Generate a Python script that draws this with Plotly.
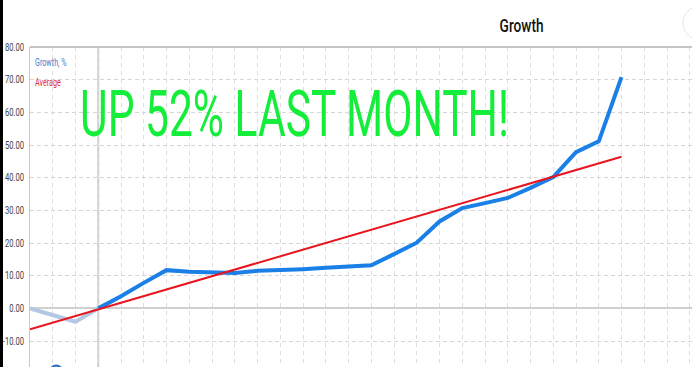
import plotly.graph_objects as go

# ---- data ----
idx = list(range(27))
growth = [0, -2.0, -4.1, 0, 3.7, 7.8, 11.7, 11.2, 11.1, 10.8, 11.5, 11.6, 12.0,
          12.4, 12.8, 13.2, 16.6, 20.1, 26.6, 30.7, 32.2, 33.8, 36.9, 40.2,
          47.8, 51.1, 70.8]
avg_x = [0, 26]
avg_y = [-6.4, 46.4]
y_ticks = [-10, 0, 10, 20, 30, 40, 50, 60, 70, 80]
split = 3

W, H = 692, 367
L, T = 30, 47
PW = W - L
PH = H - T
XMAX = PW / 22.75
YMIN = 80 - PH / 3.267
FONT = "Roboto, Liberation Sans, DejaVu Sans"


def px_x(p):
    return (p - L) / PW


def px_y(p):
    return (H - p) / PH


fig = go.Figure()
fig.add_trace(go.Scatter(x=idx[:split + 1], y=growth[:split + 1], mode="lines",
                         line=dict(color="#b3c8e3", width=4), showlegend=False,
                         hoverinfo="skip"))
fig.add_trace(go.Scatter(x=idx[split:], y=growth[split:], mode="lines",
                         line=dict(color="#1a7fe6", width=4), showlegend=False))
fig.add_trace(go.Scatter(x=avg_x, y=avg_y, mode="lines",
                         line=dict(color="#e8141e", width=2), showlegend=False))
fig.add_trace(go.Scatter(x=[1.15], y=[-19.3], mode="markers",
                         marker=dict(size=12, color="#b3c8e3",
                                     line=dict(color="#2f6fb8", width=2)),
                         showlegend=False, hoverinfo="skip"))

fig.update_layout(
    width=W, height=H,
    margin=dict(l=L, r=0, t=T, b=0, pad=0, autoexpand=False),
    paper_bgcolor="white", plot_bgcolor="white",
    xaxis=dict(range=[0, XMAX], dtick=1, tick0=0, showgrid=True,
               gridcolor="#dcdcdc", griddash="4px,4px", gridwidth=1,
               showticklabels=False, zeroline=False, showline=False,
               automargin=False, fixedrange=True),
    yaxis=dict(range=[YMIN, 80], tickvals=y_ticks, tickformat=".2f",
               showgrid=True, gridcolor="#d6d6d6", griddash="4px,3px",
               gridwidth=1, zeroline=True, zerolinecolor="#d0d0d0",
               zerolinewidth=2, showline=True, linecolor="#c8c8c8",
               linewidth=1, ticks="", ticklabelstandoff=3, automargin=False,
               tickfont=dict(family=FONT, size=10, color="#444444"),
               fixedrange=True),
    font=dict(family=FONT),
)

shapes = [
    dict(type="line", xref="x", yref="paper", x0=split, x1=split, y0=0, y1=1,
         line=dict(color="#cccccc", width=2), layer="below"),
    dict(type="line", xref="paper", yref="paper", x0=0, x1=1, y0=1, y1=1,
         line=dict(color="#c4c4c4", width=2)),
    dict(type="rect", xref="paper", yref="paper", x0=px_x(0), x1=px_x(3),
         y0=px_y(368), y1=px_y(-1), fillcolor="black", line=dict(width=0)),
    dict(type="circle", xref="paper", yref="paper", x0=px_x(683), x1=px_x(717),
         y0=px_y(40), y1=px_y(6), line=dict(color="#e6e6e6", width=1)),
]
fig.update_layout(shapes=shapes)

fig.add_annotation(text="Growth", xref="paper", yref="paper",
                   x=px_x(521), y=px_y(26), xanchor="center",
                   yanchor="middle", showarrow=False,
                   font=dict(family=FONT, size=19, color="#111111", weight=500))
fig.add_annotation(text="Growth, %", xref="paper", yref="paper",
                   x=px_x(33), y=px_y(62), xanchor="left",
                   yanchor="middle", showarrow=False,
                   font=dict(family=FONT, size=10, color="#3a7fd0"))
fig.add_annotation(text="Average", xref="paper", yref="paper",
                   x=px_x(33), y=px_y(82), xanchor="left",
                   yanchor="middle", showarrow=False,
                   font=dict(family=FONT, size=10, color="#e03030"))
fig.add_annotation(text="UP 52% LAST MONTH!", xref="paper", yref="paper",
                   x=px_x(78), y=px_y(114), xanchor="left",
                   yanchor="middle", showarrow=False,
                   font=dict(family=FONT, size=64, color="#14ee3a", weight=400))

post = """
(function(){
  var gd = document.getElementById('{plot_id}');
  function sq(t, s, mode){
    var orig = t.getAttribute('data-otf');
    if (orig === null){
      orig = t.getAttribute('transform') || '';
      t.setAttribute('data-otf', orig);
    }
    var b = t.getBBox();
    var ax = mode === 'left' ? b.x : (mode === 'right' ? b.x + b.width : b.x + b.width/2);
    t.setAttribute('transform', orig + ' translate(' + ax + ',0) scale(' + s + ',1) translate(' + (-ax) + ',0)');
  }
  function run(){
    gd.querySelectorAll('text.annotation-text').forEach(function(t){
      var c = t.textContent;
      if (c.indexOf('UP 52%') === 0){
        var b = t.getBBox();
        sq(t, 429 / b.width, 'left');
      } else if (c === 'Growth'){
        sq(t, 0.72, 'center');
      } else {
        sq(t, 0.72, 'left');
      }
    });
    gd.querySelectorAll('g.ytick text').forEach(function(t){ sq(t, 0.76, 'right'); });
  }
  run();
  if (gd.on) gd.on('plotly_afterplot', run);
})();
"""

fig.write_html("out.html", post_script=post)
